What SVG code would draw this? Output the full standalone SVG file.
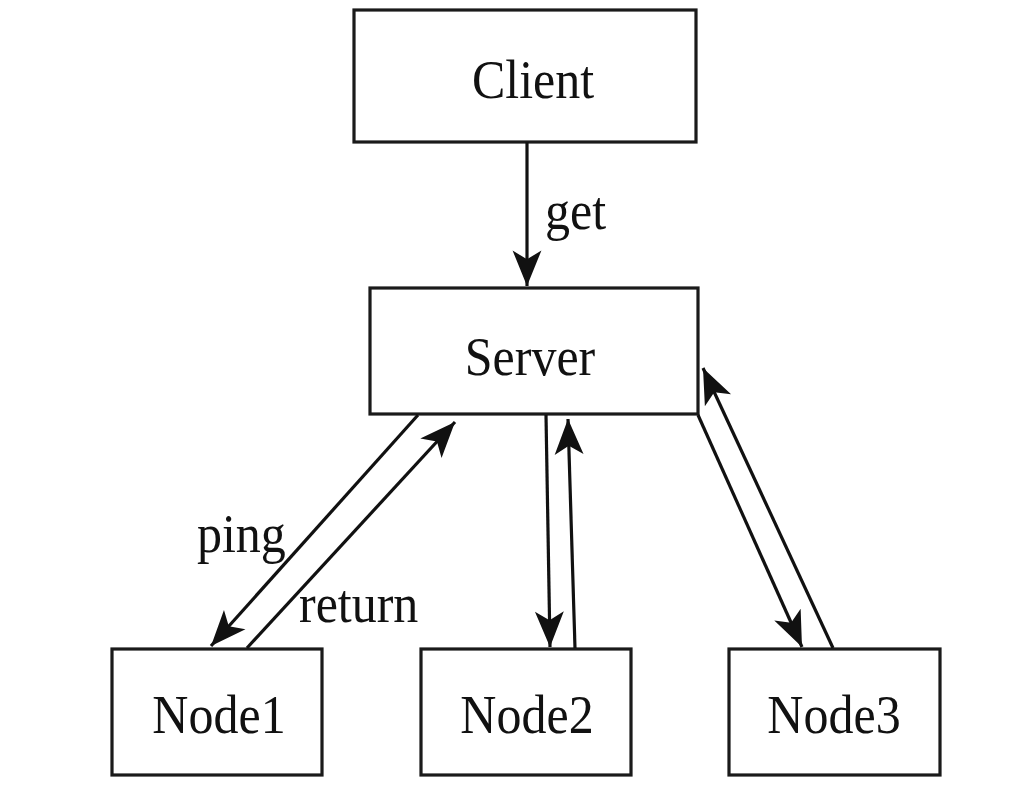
<svg xmlns="http://www.w3.org/2000/svg" width="1020" height="792" viewBox="0 0 1020 792">
<style>
.box{fill:#fff;stroke:#1a1a1a;stroke-width:3.2}
.lbl{font-family:"Liberation Serif","Times New Roman",serif;font-size:50px;fill:#111}
.c{text-anchor:middle}
.con{stroke:#111;stroke-width:3.2;fill:none;marker-end:url(#ah)}
</style>
<defs>
<marker id="ah" markerUnits="userSpaceOnUse" markerWidth="40" markerHeight="40" viewBox="-34 -15 36 30" refX="0" refY="0" orient="auto">
<path d="M0,0 L-32,-13 L-24,0 L-32,13 Z" fill="#111"/>
</marker>
</defs>
<rect width="1020" height="792" fill="#fff"/>
<g id="client"><rect class="box" x="354" y="10" width="342" height="132"/><text class="lbl c" transform="translate(533,98) scale(1,1.08)">Client</text></g>
<g id="server"><rect class="box" x="370" y="288" width="328" height="126"/><text class="lbl c" transform="translate(530,375) scale(1,1.08)">Server</text></g>
<g id="node1"><rect class="box" x="112" y="649" width="210" height="126"/><text class="lbl c" transform="translate(219,733) scale(1,1.08)">Node1</text></g>
<g id="node2"><rect class="box" x="421" y="649" width="210" height="126"/><text class="lbl c" transform="translate(527,733) scale(1,1.08)">Node2</text></g>
<g id="node3"><rect class="box" x="729" y="649" width="211" height="126"/><text class="lbl c" transform="translate(834,733) scale(1,1.08)">Node3</text></g>
<g id="connectors">
<line class="con" x1="527" y1="142" x2="527" y2="286"/>
<line class="con" x1="418" y1="415" x2="211" y2="646"/>
<line class="con" x1="247" y1="648" x2="455" y2="422"/>
<line class="con" x1="546" y1="415" x2="550" y2="647"/>
<line class="con" x1="575" y1="648" x2="568" y2="419"/>
<line class="con" x1="698" y1="415" x2="802" y2="647"/>
<line class="con" x1="833" y1="648" x2="703" y2="368"/>
</g>
<g id="labels">
<text class="lbl" transform="translate(545,229) scale(1,1.08)">get</text>
<text class="lbl" transform="translate(197,552) scale(1,1.08)">ping</text>
<text class="lbl" transform="translate(299,622) scale(1,1.08)">return</text>
</g>
</svg>
